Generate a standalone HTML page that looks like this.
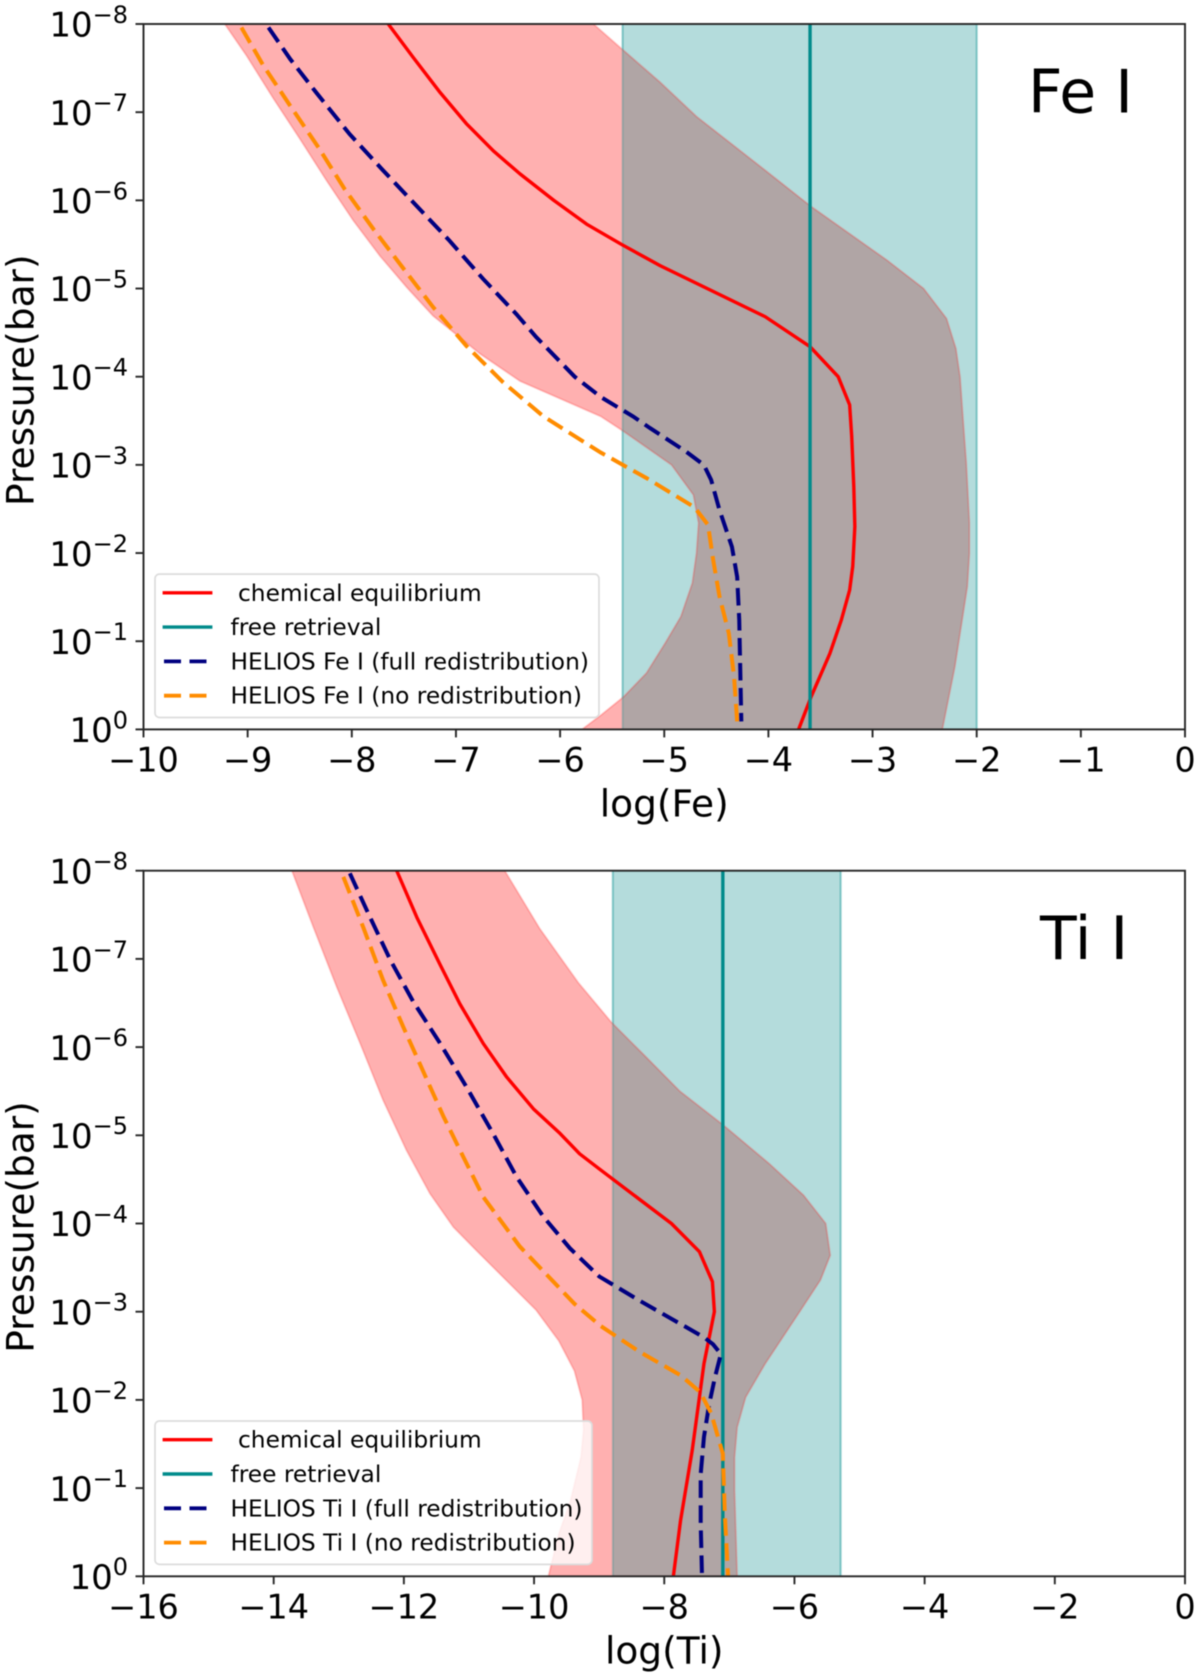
<!DOCTYPE html>
<html lang="en">
<head>
<meta charset="utf-8">
<title>Fe I and Ti I abundance profiles</title>
<style>
html,body{margin:0;padding:0;background:#fff;width:1200px;height:1677px;overflow:hidden}
svg{display:block;filter:blur(0.4px)}
text{font-family:"DejaVu Sans","Liberation Sans",sans-serif;fill:#000}
</style>
</head>
<body>
<svg id="chart" xmlns="http://www.w3.org/2000/svg" width="1200" height="1677" viewBox="0 0 1200 1677"></svg>
<script>
// Shared axis data
const yTickExponents = [-8,-7,-6,-5,-4,-3,-2,-1,0];
const feXTicks = [-10,-9,-8,-7,-6,-5,-4,-3,-2,-1,0];
const tiXTicks = [-16,-14,-12,-10,-8,-6,-4,-2,0];

// Fe I panel: band edges
const feBandLowX = [-9.22,-9.01,-8.75,-8.5,-8.24,-7.985,-7.73,-7.47,-7.22,-7.02,-6.77,-6.385,-5.61,-5.39,-4.93,-4.72,-4.67,-4.69,-4.73,-4.84,-4.99,-5.17,-5.39,-5.61,-5.79];
const feBandLowLogP = [-8,-7.64,-7.15,-6.7,-6.22,-5.77,-5.37,-5.01,-4.69,-4.5,-4.26,-3.95,-3.55,-3.38,-3,-2.66,-2.34,-2,-1.66,-1.28,-0.98,-0.64,-0.37,-0.16,0];
const feBandHighX = [-5.68,-5.41,-5.04,-4.69,-4.03,-3.59,-2.86,-2.51,-2.29,-2.2,-2.16,-2.13,-2.1,-2.07,-2.07,-2.09,-2.14,-2.21,-2.33];
const feBandHighLogP = [-8,-7.72,-7.34,-6.95,-6.34,-5.93,-5.32,-5,-4.66,-4.32,-4,-3.5,-3.02,-2.34,-2,-1.62,-1.24,-0.71,0];
// Fe I panel: free retrieval
const feRetrievalLow = -5.4;
const feRetrievalHigh = -2;
const feRetrievalValue = -3.6;
// Fe I panel: curves
const feEquilibriumX = [-7.65,-7.41,-7.15,-6.9,-6.64,-6.385,-6.06,-5.745,-5.41,-5.04,-4.03,-3.6,-3.33,-3.22,-3.2,-3.18,-3.17,-3.19,-3.22,-3.3,-3.41,-3.59,-3.71];
const feEquilibriumLogP = [-8,-7.62,-7.22,-6.87,-6.56,-6.3,-6,-5.73,-5.5,-5.26,-4.68,-4.34,-4,-3.68,-3.32,-2.75,-2.3,-1.85,-1.58,-1.24,-0.86,-0.37,0];
const feFullX = [-8.8,-8.59,-8.34,-8.02,-7.7,-7.38,-7.06,-6.74,-6.42,-6.23,-5.86,-5.61,-5.3,-5.14,-4.79,-4.62,-4.55,-4.47,-4.35,-4.3,-4.28,-4.27,-4.26];
const feFullLogP = [-7.96,-7.6,-7.22,-6.75,-6.34,-5.94,-5.54,-5.11,-4.71,-4.45,-4,-3.77,-3.55,-3.42,-3.15,-3,-2.83,-2.49,-2.07,-1.73,-1.24,-0.67,-0.09];
const feNoneX = [-9.06,-8.85,-8.59,-8.32,-8.07,-7.79,-7.5,-7.22,-6.9,-6.55,-6.16,-5.61,-5.17,-4.71,-4.58,-4.53,-4.47,-4.38,-4.33,-4.3];
const feNoneLogP = [-7.96,-7.53,-7.07,-6.6,-6.13,-5.67,-5.22,-4.79,-4.35,-3.94,-3.55,-3.14,-2.85,-2.52,-2.32,-1.92,-1.51,-1.09,-0.6,-0.09];

// Ti I panel: band edges
const tiBandLowX = [-13.72,-13.39,-13.03,-12.67,-12.32,-11.96,-11.6,-11.24,-10.88,-9.97,-9.62,-9.38,-9.26,-9.24,-9.28,-9.44,-9.62,-9.78];
const tiBandLowLogP = [-8,-7.36,-6.68,-6.04,-5.4,-4.83,-4.34,-3.96,-3.69,-3.02,-2.67,-2.33,-2,-1.66,-1.35,-0.86,-0.48,0];
const tiBandHighX = [-10.45,-9.91,-9.32,-8.81,-8.27,-7.76,-7.1,-6.39,-5.86,-5.52,-5.45,-5.6,-5.92,-6.45,-6.75,-6.88,-6.92,-6.92,-6.88];
const tiBandHighLogP = [-8,-7.34,-6.73,-6.28,-5.88,-5.5,-5.12,-4.68,-4.32,-4,-3.64,-3.36,-3,-2.41,-2.03,-1.69,-1.35,-0.97,0];
// Ti I panel: free retrieval
const tiRetrievalLow = -8.79;
const tiRetrievalHigh = -5.29;
const tiRetrievalValue = -7.1;
// Ti I panel: curves
const tiEquilibriumX = [-12.11,-11.8,-11.44,-11.14,-10.78,-10.42,-10.01,-9.6,-9.3,-9,-7.89,-7.46,-7.26,-7.23,-7.39,-7.57,-7.75,-7.86];
const tiEquilibriumLogP = [-8,-7.47,-6.93,-6.49,-6.04,-5.66,-5.3,-5.02,-4.79,-4.62,-4,-3.68,-3.34,-3,-2.41,-1.43,-0.63,0];
const tiFullX = [-12.83,-12.55,-12.21,-11.86,-11.45,-11.04,-10.63,-10.27,-9.86,-9.45,-9,-8.39,-7.39,-7.25,-7.13,-7.22,-7.31,-7.39,-7.44,-7.44,-7.42];
const tiFullLogP = [-7.97,-7.52,-6.99,-6.52,-6.05,-5.55,-5.02,-4.53,-4.08,-3.72,-3.4,-3.13,-2.71,-2.63,-2.52,-2.26,-1.95,-1.58,-1.16,-0.6,0];
const tiNoneX = [-12.93,-12.62,-12.32,-12.01,-11.7,-11.39,-11.09,-10.78,-10.22,-9.38,-8.98,-8.39,-7.75,-7.45,-7.28,-7.1,-7.07,-7.02];
const tiNoneLogP = [-7.93,-7.35,-6.76,-6.23,-5.72,-5.21,-4.76,-4.3,-3.74,-3.09,-2.84,-2.55,-2.28,-2.09,-1.85,-1.39,-0.71,0];

const SVG_NS = 'http://www.w3.org/2000/svg';
const root = document.getElementById('chart');

function make(tag, parent, attrs, text) {
  const node = document.createElementNS(SVG_NS, tag);
  for (const key in attrs) node.setAttribute(key, attrs[key]);
  if (text !== undefined) node.textContent = text;
  parent.appendChild(node);
  return node;
}

function pathFrom(xs, ys, sx, sy) {
  return xs.map((v, i) => (i ? 'L' : 'M') + sx(v).toFixed(2) + ' ' + sy(ys[i]).toFixed(2)).join(' ');
}

function drawPanel(p) {
  const L = 143.5, R = 1185, T = p.top, B = p.bottom;
  const sx = v => L + (v - p.xMin) / (p.xMax - p.xMin) * (R - L);
  const sy = lp => T + (lp + 8) / 8 * (B - T);

  const g = make('g', root, {});
  
  

  const defs = make('defs', g, {});
  const clipPlot = make('clipPath', defs, { id: p.id + '-plot-clip' });
  make('rect', clipPlot, { x: L, y: T, width: R - L, height: B - T });
  const clipBand = make('clipPath', defs, { id: p.id + '-band-clip' });
  make('rect', clipBand, { x: sx(p.retLow), y: T, width: sx(p.retHigh) - sx(p.retLow), height: B - T });

  const plot = make('g', g, { 'clip-path': 'url(#' + p.id + '-plot-clip)' });
  
  

  const retBand = make('rect', plot, { x: sx(p.retLow), y: T, width: sx(p.retHigh) - sx(p.retLow), height: B - T, fill: '#b4dcdc', stroke: 'rgba(0,139,139,0.22)', 'stroke-width': 2 });
  
  

  const bandX = p.lowX.concat(p.highX.slice().reverse());
  const bandY = p.lowP.concat(p.highP.slice().reverse());
  const bandD = pathFrom(bandX, bandY, sx, sy) + ' Z';

  const eqBand = make('path', plot, { d: bandD, fill: '#ffb0b0', stroke: 'none' });
  
  

  const overlap = make('path', plot, { d: bandD, fill: '#b0a5a5', stroke: 'none', 'clip-path': 'url(#' + p.id + '-band-clip)' });
  
  

  const bandEdge = make('path', plot, { d: bandD, fill: 'none', stroke: 'rgba(255,0,0,0.2)', 'stroke-width': 1.8 });
  
  

  const retEdgeLow = make('line', plot, { x1: sx(p.retLow), x2: sx(p.retLow), y1: T, y2: B, stroke: 'rgba(0,139,139,0.25)', 'stroke-width': 2 });
  
  

  const retEdgeHigh = make('line', plot, { x1: sx(p.retHigh), x2: sx(p.retHigh), y1: T, y2: B, stroke: 'rgba(0,139,139,0.25)', 'stroke-width': 2 });
  
  

  const redLine = make('path', plot, { d: pathFrom(p.eqX, p.eqP, sx, sy), fill: 'none', stroke: '#ff0000', 'stroke-width': 3.4, 'stroke-linejoin': 'round' });
  
  

  const retLine = make('line', plot, { x1: sx(p.retValue), x2: sx(p.retValue), y1: T, y2: B, stroke: '#008b8b', 'stroke-width': 3.4 });
  
  

  const navyLine = make('path', plot, { d: pathFrom(p.fullX, p.fullP, sx, sy), fill: 'none', stroke: '#000080', 'stroke-width': 4, 'stroke-dasharray': '17.5 7.5' });
  
  

  const orangeLine = make('path', plot, { d: pathFrom(p.noneX, p.noneP, sx, sy), fill: 'none', stroke: '#ff8c00', 'stroke-width': 4, 'stroke-dasharray': '17.5 7.5' });
  
  

  const frame = make('rect', g, { x: L, y: T, width: R - L, height: B - T, fill: 'none', stroke: '#262626', 'stroke-width': 1.9 });
  
  

  yTickExponents.forEach(exp => {
    const tick = make('line', g, { x1: L - 8, x2: L, y1: sy(exp), y2: sy(exp), stroke: '#262626', 'stroke-width': 1.9 });
    
    
    const label = make('text', g, { x: 128, y: sy(exp) + 12.7, 'text-anchor': 'end', 'font-size': 34 });
    
    
    make('tspan', label, {}, '10');
    make('tspan', label, { dy: -13.8, 'font-size': 24 }, String(exp).replace('-', '\u2212'));
  });

  p.xTicks.forEach(v => {
    const tick = make('line', g, { x1: sx(v), x2: sx(v), y1: B, y2: B + 8, stroke: '#262626', 'stroke-width': 1.9 });
    
    
    const label = make('text', g, { x: sx(v), y: B + 42.3, 'text-anchor': 'middle', 'font-size': 33.5 }, String(v).replace('-', '\u2212'));
    
    
  });

  const xTitle = make('text', g, { x: (L + R) / 2, y: B + 87.3, 'text-anchor': 'middle', 'font-size': 37.5 }, p.xTitle);
  
  

  const yMid = (T + B) / 2 + 3.5;
  const yTitle = make('text', g, { x: 0, y: 0, 'text-anchor': 'middle', 'font-size': 37.5, transform: 'translate(33.7 ' + yMid + ') rotate(-90)' }, 'Pressure(bar)');
  
  

  const species = make('text', g, { x: p.speciesX, y: T + 88.5, 'font-size': 60 }, p.species);
  
  

  const legend = make('g', g, {});
  
  
  const legT = B - 155.3;
  const box = make('rect', legend, { x: 155, y: legT, width: p.legendW, height: 143.4, rx: 4.5, ry: 4.5, fill: 'rgba(255,255,255,0.8)', stroke: '#dcdcdc', 'stroke-width': 1.7 });
  
  

  const legendRows = [
    { label: 'chemical equilibrium', color: '#ff0000', dash: null, tx: 238, w: 3.4 },
    { label: 'free retrieval', color: '#008b8b', dash: null, tx: 230.5, w: 3.4 },
    { label: 'HELIOS ' + p.species + ' (full redistribution)', color: '#000080', dash: '17 8.5', tx: 230.5, w: 3.8 },
    { label: 'HELIOS ' + p.species + ' (no redistribution)', color: '#ff8c00', dash: '17 8.5', tx: 230.5, w: 3.8 }
  ];
  legendRows.forEach((row, i) => {
    const y = legT + 18.7 + i * 34.3;
    const attrs = { x1: row.dash ? 164 : 162.6, x2: row.dash ? 207 : 212.4, y1: y, y2: y, stroke: row.color, 'stroke-width': row.w };
    if (row.dash) attrs['stroke-dasharray'] = row.dash;
    const handle = make('line', legend, attrs);
    
    
    const text = make('text', legend, { x: row.tx, y: y + 8, 'font-size': 23.3 }, row.label);
    
    
  });
}

drawPanel({
  id: 'fe', species: 'Fe I', xTitle: 'log(Fe)', speciesX: 1028, legendW: 444,
  top: 24, bottom: 729.4, xMin: -10, xMax: 0, xTicks: feXTicks,
  lowX: feBandLowX, lowP: feBandLowLogP, highX: feBandHighX, highP: feBandHighLogP,
  retLow: feRetrievalLow, retHigh: feRetrievalHigh, retValue: feRetrievalValue,
  eqX: feEquilibriumX, eqP: feEquilibriumLogP,
  fullX: feFullX, fullP: feFullLogP, noneX: feNoneX, noneP: feNoneLogP
});

drawPanel({
  id: 'ti', species: 'Ti I', xTitle: 'log(Ti)', speciesX: 1040, legendW: 437,
  top: 870.7, bottom: 1576.3, xMin: -16, xMax: 0, xTicks: tiXTicks,
  lowX: tiBandLowX, lowP: tiBandLowLogP, highX: tiBandHighX, highP: tiBandHighLogP,
  retLow: tiRetrievalLow, retHigh: tiRetrievalHigh, retValue: tiRetrievalValue,
  eqX: tiEquilibriumX, eqP: tiEquilibriumLogP,
  fullX: tiFullX, fullP: tiFullLogP, noneX: tiNoneX, noneP: tiNoneLogP
});
</script>
</body>
</html>
